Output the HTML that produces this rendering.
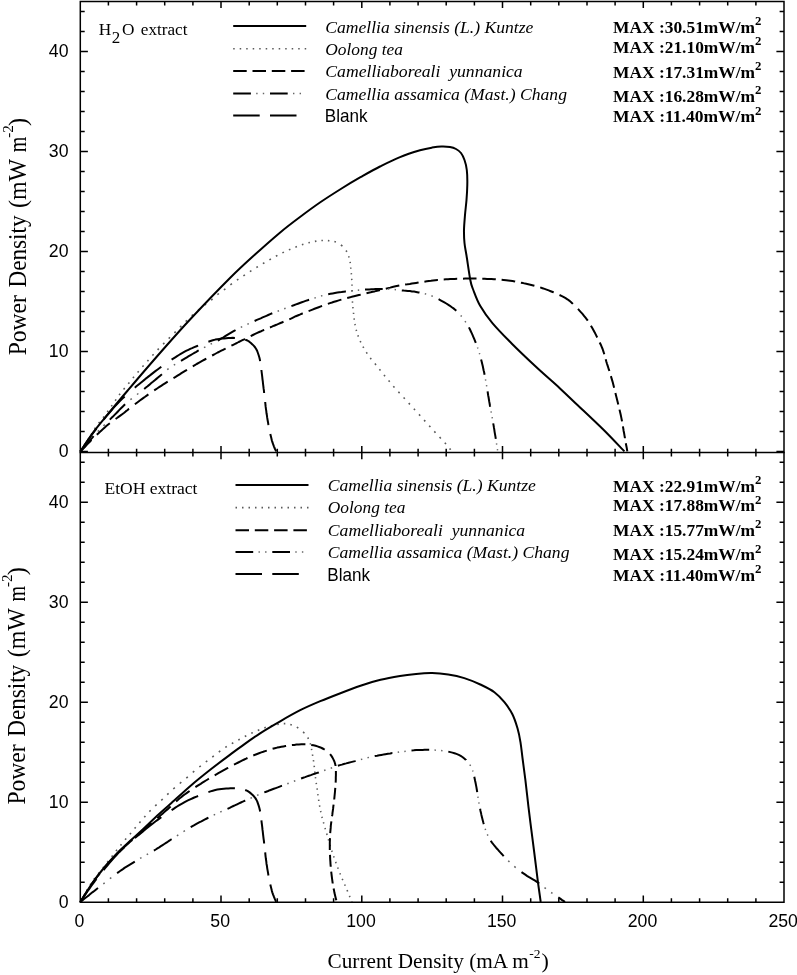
<!DOCTYPE html>
<html lang="en"><head><meta charset="utf-8"><title>Power density curves</title>
<style>html,body{margin:0;padding:0;background:#fff}svg{display:block}.ar{font-family:"Liberation Sans",Arial,sans-serif;font-size:17.7px;fill:#000}.tr{font-family:"Liberation Serif","Times New Roman",serif;fill:#000}</style></head><body>
<svg width="797" height="975" viewBox="0 0 797 975">
<rect width="797" height="975" fill="#fff"/>
<g fill="none" stroke="#000" stroke-width="2.00" stroke-linejoin="round">
<path d="M80.3 451.6L81.1 450.3M83.9 445.9L84.8 444.6M87.6 440.3L88.4 439.0M91.2 434.6L91.9 433.3M94.6 429.0L95.4 427.7M98.6 423.3L99.7 422.0M103.1 417.7L104.1 416.4M107.3 412.0L108.2 410.7M111.3 406.4L112.2 405.1M115.2 400.7L116.1 399.4M119.1 395.1L120.1 393.8M123.6 389.4L124.7 388.1M128.3 383.8L129.4 382.5M132.9 378.1L134.0 376.8M137.6 372.5L138.7 371.2M142.4 366.8L143.6 365.5M147.4 361.2L148.5 359.9M152.4 355.5L153.6 354.2M157.6 349.9L158.8 348.6M163.1 344.2L164.4 342.9M168.7 338.6L170.0 337.3M174.4 332.9L175.7 331.6M180.0 327.3L181.4 325.9M185.7 321.6L187.0 320.3M191.7 315.9L193.1 314.6M198.1 310.3L199.6 309.0M204.6 305.0L206.1 303.9M211.1 300.1L212.6 299.0M217.4 294.7L218.9 293.5M223.9 289.9L225.4 288.8M230.4 284.8L231.9 283.6M236.9 280.1L238.4 279.1M243.4 275.9L244.9 274.9M249.9 271.7L251.4 270.7M256.4 267.5L257.9 266.6M262.9 263.6L264.4 262.7M269.4 259.9L270.9 259.0M275.9 256.3L277.4 255.4M282.4 252.9L283.9 252.1M288.9 249.9L290.4 249.2M295.4 247.2L296.9 246.6M301.9 244.8L303.4 244.3M308.4 242.8L309.9 242.5M314.9 241.4L316.4 241.1M321.4 240.5L322.9 240.5M327.9 240.6L329.4 240.7M334.4 241.4L335.9 241.9M340.9 244.9L342.4 246.2M346.1 250.5L346.8 251.8M348.6 256.2L349.1 257.5M350.1 261.8L350.3 263.1M350.7 267.5L350.8 268.8M351.3 273.1L351.4 274.4M351.7 278.8L351.8 280.1M352.0 284.4L352.0 285.7M352.1 290.1L352.1 291.4M352.1 295.7L352.2 297.0M352.4 301.4L352.5 302.7M352.9 307.0L353.0 308.4M353.5 312.7L353.6 314.0M354.1 318.4L354.2 319.7M354.9 324.0L355.2 325.3M356.2 329.7L356.5 331.0M357.9 335.3L358.4 336.6M360.2 341.0L360.8 342.3M363.0 346.6L363.7 347.9M366.3 352.3L367.2 353.6M370.3 357.9L371.2 359.2M374.9 363.6L376.0 364.9M379.4 369.2L380.5 370.5M384.0 374.9L385.0 376.2M388.6 380.5L389.7 381.8M393.3 386.2L394.5 387.5M398.4 391.8L399.6 393.1M403.6 397.5L404.8 398.8M408.7 403.1L409.9 404.4M413.9 408.8L415.0 410.1M419.0 414.4L420.2 415.7M424.1 420.1L425.3 421.4M429.2 425.7L430.4 427.0M434.3 431.4L435.5 432.7M439.6 437.0L440.8 438.4M444.8 442.7L446.0 444.0M449.6 448.4L450.6 449.7" stroke="#5a5a5a" stroke-width="1.60"/>
<path d="M80.3 451.6L81.9 449.9L83.5 448.2L85.0 446.7L86.5 445.1L88.2 443.4L89.8 441.7L91.4 440.0L91.6 439.9M96.8 434.8L98.5 433.3L100.0 431.8L101.5 430.4L103.0 429.1L104.5 427.7L106.3 426.1L108.2 424.5L109.8 423.3M115.6 419.0L117.3 417.8L118.9 416.6L120.6 415.4L122.2 414.2L124.2 412.7L125.7 411.4L127.3 410.2L128.9 408.9L129.1 408.8M134.9 404.3L136.6 403.0L138.6 401.5L140.2 400.3L141.8 399.1L143.5 397.9L145.1 396.8L146.7 395.6L148.4 394.4L148.4 394.4M154.2 390.4L156.1 389.2L157.8 388.0L159.5 386.9L161.2 385.8L162.9 384.7L165.0 383.4L166.9 382.2L167.7 381.7M173.5 378.1L175.6 376.9L177.5 375.7L179.7 374.3L181.4 373.2L183.5 371.9L185.6 370.6L187.0 369.8M192.8 366.3L194.8 365.2L196.7 364.0L198.7 362.9L200.5 361.9L202.6 360.7L204.8 359.5L206.3 358.7M212.1 355.5L214.1 354.5L215.9 353.5L217.7 352.5L219.5 351.6L221.3 350.7L223.1 349.8L224.9 348.9L225.6 348.5M231.4 345.7L233.2 344.8L235.1 343.9L236.9 343.0L238.7 342.0L240.5 341.1L242.4 340.2L244.2 339.3L244.9 338.9M250.7 336.1L252.9 335.0L255.1 333.9L257.3 332.9L259.2 332.0L261.2 331.2L263.1 330.3L264.2 329.9M270.0 327.5L271.9 326.7L274.1 325.7L276.4 324.8L278.5 323.9L280.5 323.0L282.5 322.2L283.5 321.8M289.3 319.3L291.5 318.3L293.5 317.3L295.8 316.2L298.3 315.2L300.3 314.4L302.4 313.5L302.8 313.4M308.6 311.1L310.5 310.4L312.5 309.6L314.5 308.8L316.6 308.0L318.7 307.2L320.8 306.4L322.1 306.0M327.9 303.9L330.0 303.1L332.0 302.5L334.1 301.8L336.1 301.2L338.0 300.6L340.4 299.9L341.4 299.6M347.2 298.0L349.3 297.5L351.6 296.9L354.0 296.3L356.0 295.8L357.9 295.3L360.0 294.8L360.7 294.6M366.5 293.2L368.6 292.7L370.7 292.3L372.7 291.8L374.6 291.4L377.0 290.8L379.3 290.3L380.0 290.1M385.8 288.7L388.1 288.1L390.2 287.6L392.4 287.0L394.4 286.6L396.7 286.1L399.3 285.6L399.3 285.6M405.1 284.6L407.4 284.3L409.8 283.9L411.9 283.5L414.0 283.2L416.1 282.9L418.2 282.6L418.6 282.5M424.4 281.7L426.8 281.3L428.9 281.0L431.0 280.8L433.0 280.5L435.4 280.2L437.6 280.0L437.9 280.0M443.7 279.4L446.0 279.3L448.1 279.2L450.1 279.0L452.2 279.0L454.6 278.9L457.0 278.8L457.2 278.8M463.0 278.7L465.1 278.6L467.1 278.6L469.2 278.6L471.3 278.5L473.4 278.5L475.4 278.5L476.5 278.5M482.3 278.7L484.7 278.7L487.1 278.9L489.5 279.0L491.5 279.1L494.0 279.2L495.8 279.3M501.6 279.8L503.7 280.0L506.2 280.2L508.2 280.5L510.3 280.8L512.5 281.1L514.8 281.5L515.1 281.6M520.9 282.7L523.2 283.1L525.2 283.6L527.2 284.0L529.3 284.5L531.3 285.0L533.3 285.5L534.4 285.8M540.2 287.4L542.5 288.2L544.6 288.9L546.6 289.6L548.7 290.4L550.7 291.2L552.7 292.0L553.7 292.4M559.5 295.0L561.4 295.9L563.4 296.9L565.6 298.1L567.4 299.3L569.2 300.6L570.9 302.1L572.4 303.4L572.9 303.9M578.0 308.9L579.7 310.8L581.1 312.4L582.5 313.9L584.0 315.8L585.3 317.4L586.8 319.3L587.8 320.7M590.9 325.7L592.0 327.6L593.1 329.6L594.3 331.8L595.3 333.6L596.3 335.6L597.2 337.5M599.7 342.5L600.8 344.7L601.7 346.9L602.6 349.0L603.3 351.1L603.9 353.0L604.3 354.2M605.7 359.3L606.3 361.5L606.9 363.5L607.7 365.9L608.3 367.8L608.9 369.7L609.4 371.0M610.9 376.1L611.5 378.1L612.1 380.1L612.8 382.5L613.3 384.5L613.8 386.5L614.1 387.8M615.4 392.9L615.9 395.0L616.4 397.0L616.9 399.0L617.4 401.0L617.9 403.0L618.3 404.6M619.5 409.6L620.0 411.8L620.6 414.2L621.1 416.6L621.5 418.6L621.9 420.6L622.0 421.4M622.9 426.4L623.3 428.7L623.6 430.7L624.1 433.2L624.5 435.6L624.9 437.8L624.9 438.2M625.8 443.2L626.2 445.2L626.6 447.2L627.0 449.5L627.3 451.4" stroke="#000" stroke-width="2.00"/>
<path d="M80.3 451.6L81.8 449.9L83.1 448.3L84.7 446.5L86.1 444.9L87.5 443.2L89.0 441.4L90.6 439.6L92.2 437.9L93.6 436.2M109.8 419.6L111.3 418.1L113.0 416.5L114.6 414.9L116.2 413.3L117.7 411.7L119.4 409.9L121.0 408.3L122.6 406.7L124.3 405.0L125.1 404.2M144.2 388.9L145.9 387.5L147.6 386.2L149.2 384.9L151.0 383.3L152.9 381.8L154.8 380.2L156.4 378.9L158.3 377.3L159.9 375.9L161.6 374.5L161.9 374.2M181.0 360.9L183.0 359.7L185.1 358.4L186.9 357.3L188.7 356.2L190.6 355.1L192.5 354.0L194.4 352.9L196.3 351.8L198.1 350.7L198.7 350.4M217.8 340.5L219.7 339.5L221.6 338.4L223.5 337.3L225.2 336.2L227.3 334.9L229.4 333.6L231.5 332.3L233.2 331.3L235.0 330.3L235.5 330.0M254.6 321.0L256.9 319.9L258.8 319.1L260.7 318.3L262.6 317.4L264.5 316.6L266.4 315.8L268.2 315.0L270.1 314.2L272.3 313.3M291.4 306.1L293.7 305.3L296.0 304.4L297.9 303.7L299.8 303.0L301.8 302.3L303.7 301.6L305.6 300.9L307.6 300.3L309.1 299.8M328.2 294.2L330.4 293.8L332.6 293.4L334.9 293.0L337.4 292.6L339.4 292.3L341.5 292.1L343.6 291.8L345.7 291.5L345.9 291.5M365.0 289.6L367.1 289.5L369.2 289.4L371.4 289.3L373.5 289.2L375.5 289.1L377.6 289.1L380.0 289.0L382.3 289.0L382.7 289.0M401.8 290.4L403.8 290.6L405.8 290.7L407.9 290.9L409.9 291.1L412.0 291.4L414.1 291.6L416.1 291.9L418.5 292.4L419.5 292.6M438.6 299.2L440.6 300.3L442.5 301.3L444.4 302.4L446.3 303.5L448.1 304.7L449.9 305.8L451.5 307.0L453.5 308.4L455.1 309.7L456.3 310.8M468.9 327.4L469.9 329.3L470.8 331.2L471.7 333.1L472.5 334.9L473.3 336.8L474.1 338.7L474.9 340.6L475.8 342.8M481.1 359.4L481.7 361.8L482.3 364.2L482.8 366.2L483.2 368.2L483.6 370.2L484.1 372.2L484.5 374.3L484.6 374.8M487.6 391.4L487.9 393.5L488.2 395.5L488.6 397.5L488.9 399.5L489.3 401.9L489.7 404.0L490.0 406.0L490.2 406.8M493.2 423.4L493.6 425.4L493.9 427.4L494.3 429.6L494.6 431.8L495.0 434.1L495.4 436.4L495.8 438.8L495.8 438.8" stroke="#000" stroke-width="2.00"/><path d="M97.8 431.6L99.0 430.4M103.5 425.9L104.7 424.6M109.8 419.6M130.4 399.7L131.8 398.6M137.0 394.5L138.4 393.5M144.2 388.9M167.2 369.7L168.6 368.6M173.8 365.0L175.2 364.3M181.0 360.9M204.0 347.6L205.4 346.8M210.6 344.2L212.0 343.5M217.8 340.5M240.8 327.3L242.2 326.6M247.4 324.2L248.8 323.6M254.6 321.0M277.6 311.2L279.0 310.7M284.2 308.7L285.6 308.2M291.4 306.1M314.4 298.1L315.8 297.6M321.0 296.0L322.4 295.6M328.2 294.2M351.2 290.9L352.6 290.7M357.8 290.2L359.2 290.1M365.0 289.6M388.0 289.0L389.4 289.1M394.6 289.6L396.0 289.7M401.8 290.4M424.8 293.7L426.2 294.1M431.4 295.8L432.8 296.4M438.6 299.2M460.7 315.4L461.7 316.6M465.0 321.1L465.8 322.3M468.9 327.4M477.5 347.4L477.9 348.6M479.4 353.1L479.7 354.3M481.1 359.4M485.5 379.4L485.7 380.6M486.5 385.1L486.7 386.3M487.6 391.4M491.0 411.4L491.3 412.6M492.1 417.1L492.3 418.3M493.2 423.4M496.5 443.4L496.7 444.6M497.4 449.1L497.6 450.3" stroke="#666" stroke-width="1.50"/>
<path d="M80.3 451.6L81.6 449.7L82.8 447.9L83.9 446.2L85.1 444.4L86.4 442.5L87.7 440.6L89.1 438.7L90.4 436.8L91.6 435.0L92.8 433.4L94.1 431.7L95.3 430.0L96.5 428.6M103.6 419.6L105.1 417.8L106.4 416.2L107.7 414.6L109.1 413.0L110.4 411.5L111.7 410.0L113.0 408.4L114.6 406.6L116.3 404.8L118.0 403.0L119.4 401.5L120.9 400.1L122.4 398.6L123.9 397.2L124.7 396.6M134.8 387.7L136.4 386.3L138.0 385.0L139.6 383.7L141.1 382.5L142.7 381.2L144.3 379.9L145.8 378.6L147.4 377.4L149.0 376.1L150.6 374.9L152.2 373.6L154.1 372.1L155.7 370.9L157.3 369.7L159.3 368.2L161.3 366.7L161.3 366.7M171.6 359.7L173.6 358.4L175.3 357.3L177.1 356.1L178.9 355.0L180.7 353.9L182.5 352.9L184.6 351.7L186.5 350.7L188.4 349.8L190.2 348.9L192.1 348.1L194.3 347.1L196.6 346.2L198.1 345.6M208.4 341.7L210.5 341.0L212.8 340.3L215.3 339.6L217.4 339.2L219.4 338.9L221.4 338.6L223.9 338.4L226.2 338.2L228.3 338.0L230.4 337.9L232.8 337.8L234.9 337.9M245.2 339.6L247.4 340.5L249.3 341.7L250.9 343.0L252.4 344.4L253.9 345.9L255.2 347.5L256.3 349.2L257.2 351.0L257.9 353.0L258.6 355.0L259.3 357.3L259.9 359.8L260.1 361.1M261.4 370.0L261.7 372.5L262.0 374.8L262.3 377.3L262.5 379.3L262.8 381.4L263.0 383.5L263.3 385.9L263.6 388.4L263.9 390.4L264.1 392.5L264.1 393.1M265.2 402.0L265.4 404.2L265.6 406.2L265.9 408.6L266.3 411.1L266.5 413.3L266.9 415.3L267.2 417.7L267.6 420.0L268.0 422.2L268.3 424.2L268.5 425.1M270.3 434.0L270.8 436.1L271.3 438.1L271.8 440.2L272.4 442.2L273.1 444.2L273.9 446.3L274.8 448.5L275.7 450.4L276.1 451.4" stroke="#000" stroke-width="2.00"/>
<path d="M80.3 451.6C82.3 448.6 88.4 439.1 92.5 433.4C96.6 427.7 99.1 424.8 105.0 417.6C110.9 410.5 118.5 401.3 127.7 390.5C136.9 379.7 149.5 364.9 160.0 353.0C170.5 341.1 178.8 331.5 190.5 319.0C202.2 306.5 219.2 288.8 230.0 278.0C240.8 267.2 246.6 262.1 255.0 254.5C263.4 246.9 272.7 238.7 280.2 232.4C287.7 226.2 293.3 222.0 300.0 217.0C306.7 212.0 313.6 206.9 320.3 202.3C327.0 197.7 333.3 193.7 340.0 189.5C346.7 185.3 353.8 181.0 360.5 177.2C367.2 173.4 373.4 169.8 380.0 166.5C386.6 163.2 393.3 159.8 400.0 157.1C406.7 154.4 414.7 151.9 420.0 150.3C425.3 148.7 428.4 148.2 432.0 147.6C435.6 147.0 438.4 146.6 441.4 146.5C444.4 146.4 447.6 146.6 450.0 147.0C452.4 147.4 454.2 148.0 456.0 149.0C457.8 150.0 459.6 151.2 461.0 153.0C462.4 154.8 463.5 157.2 464.5 160.0C465.5 162.8 466.3 165.8 466.8 170.0C467.3 174.2 467.4 180.0 467.3 185.0C467.2 190.0 466.9 195.0 466.5 200.0C466.1 205.0 465.4 210.0 465.0 215.0C464.6 220.0 464.1 225.3 464.0 230.0C463.9 234.7 464.1 238.8 464.5 243.0C464.9 247.2 465.5 249.3 466.5 255.5C467.5 261.7 469.2 274.2 470.3 280.0C471.4 285.8 471.6 285.6 473.3 290.0C475.0 294.4 477.1 300.6 480.3 306.1C483.5 311.6 487.0 316.8 492.4 323.1C497.8 329.5 505.0 336.8 512.4 344.2C519.8 351.6 528.6 359.9 536.5 367.3C544.4 374.7 553.1 382.0 560.0 388.4C566.9 394.8 570.8 398.7 578.0 405.5C585.2 412.3 595.3 421.7 603.0 429.3C610.7 436.9 620.8 447.7 624.4 451.4"/>
<path d="M80.3 902.0L81.0 900.7M83.5 896.3L84.2 895.0M86.7 890.7L87.5 889.4M90.1 885.0L90.9 883.7M93.8 879.4L94.8 878.1M98.2 873.7L99.3 872.4M102.8 868.1L103.9 866.8M107.2 862.4L108.3 861.1M111.6 856.8L112.7 855.5M116.0 851.1L117.0 849.8M120.5 845.5L121.5 844.2M125.1 839.8L126.2 838.5M129.9 834.2L131.0 832.9M134.6 828.5L135.7 827.2M139.4 822.9L140.5 821.6M144.3 817.2L145.4 815.9M149.4 811.6L150.6 810.3M155.2 805.9L156.6 804.6M161.3 800.3L162.7 799.0M167.2 794.6L168.6 793.3M173.3 789.0L174.8 787.7M179.8 783.5L181.3 782.2M186.3 778.1L187.8 776.8M192.8 772.4L194.3 771.2M199.3 767.0L200.8 765.8M205.8 761.9L207.3 760.8M212.3 757.1L213.8 755.9M218.8 752.0L220.3 750.9M225.3 747.4L226.8 746.5M231.8 743.6L233.3 742.7M238.3 740.0L239.8 739.2M244.8 736.5L246.3 735.7M251.3 733.3L252.8 732.6M257.8 730.4L259.3 729.8M264.3 727.9L265.8 727.3M270.8 725.9L272.3 725.5M277.3 724.5L278.8 724.2M283.8 723.6L285.3 723.6M290.3 724.4L291.8 724.9M296.8 727.1L298.3 728.0M303.1 731.9L304.4 733.2M307.7 737.5L308.5 738.8M310.2 743.2L310.6 744.5M311.5 748.8L311.7 750.1M312.5 754.5L312.7 755.8M313.4 760.1L313.6 761.5M314.2 765.8L314.3 767.1M314.8 771.5L314.9 772.8M315.4 777.1L315.6 778.4M316.2 782.8L316.4 784.1M317.1 788.4L317.2 789.7M317.8 794.1L318.0 795.4M318.6 799.7L318.8 801.0M319.5 805.4L319.8 806.7M320.6 811.0L320.9 812.3M321.9 816.7L322.2 818.0M323.4 822.3L323.8 823.6M325.0 828.0L325.4 829.3M326.7 833.6L327.1 834.9M328.3 839.3L328.7 840.6M330.0 844.9L330.4 846.2M331.7 850.6L332.2 851.9M333.6 856.2L334.1 857.5M335.6 861.9L336.1 863.2M337.7 867.5L338.2 868.8M339.9 873.2L340.4 874.5M342.2 878.8L342.8 880.1M344.7 884.5L345.2 885.8M347.1 890.1L347.6 891.5M349.4 895.8L350.0 897.1M351.8 901.5L352.0 902.0" stroke="#5a5a5a" stroke-width="1.60"/>
<path d="M80.3 902.0L81.5 900.1L82.7 898.2L84.0 896.1L85.2 894.2L86.4 892.3L87.6 890.3L87.7 890.3M91.0 885.2L92.2 883.4L93.4 881.7L94.7 880.0L95.9 878.3L97.2 876.7L98.5 875.1L99.7 873.5L99.7 873.5M103.9 868.4L105.4 866.6L106.8 865.0L108.1 863.4L109.5 861.9L110.8 860.4L112.2 858.9L113.9 857.1L114.2 856.7M119.2 851.7L120.6 850.3L122.2 848.9L123.7 847.5L125.2 846.1L126.8 844.8L128.3 843.5L129.8 842.1L131.3 840.8L132.4 839.9M138.2 834.9L140.0 833.3L141.6 832.0L143.1 830.7L144.6 829.3L146.1 828.0L147.7 826.7L149.2 825.3L150.7 824.0L151.6 823.2M157.4 818.2L159.0 816.7L160.9 815.1L162.8 813.4L164.3 812.1L165.8 810.7L167.4 809.4L169.2 807.7L170.6 806.4M176.1 801.4L177.8 800.0L179.4 798.6L181.1 797.2L182.7 795.9L184.6 794.5L186.6 793.1L188.3 791.9L189.6 791.0M195.4 787.2L197.3 785.9L199.0 784.8L200.7 783.8L202.4 782.7L204.1 781.6L205.9 780.5L207.6 779.5L208.9 778.7M214.7 775.3L216.7 774.2L218.4 773.2L220.2 772.2L222.0 771.2L223.8 770.2L225.6 769.2L227.4 768.2L228.2 767.8M234.0 764.6L236.0 763.6L238.3 762.5L240.5 761.4L242.4 760.4L244.3 759.5L246.1 758.7L247.5 758.0M253.3 755.5L255.2 754.7L257.1 754.0L259.0 753.3L261.3 752.4L263.2 751.8L265.1 751.1L266.8 750.6M272.6 748.8L274.8 748.2L277.2 747.6L279.2 747.2L281.3 746.8L283.4 746.4L285.5 746.0L286.1 745.9M291.9 745.1L294.2 744.9L296.5 744.6L298.9 744.4L301.3 744.3L303.4 744.3L305.4 744.3M311.2 744.9L313.5 745.3L315.6 745.8L317.5 746.4L319.8 747.2L321.7 748.0L323.6 749.0L324.7 749.7M330.1 754.2L331.4 755.9L332.5 757.6L333.4 759.4L334.4 761.5L335.1 763.7L335.6 765.9L335.6 766.0M335.9 771.0L335.9 773.3L335.9 775.3L335.8 777.4L335.8 779.6L335.7 781.8L335.6 782.7M335.3 787.8L335.1 790.0L334.9 792.5L334.7 794.5L334.5 796.5L334.3 798.6L334.2 799.5M333.6 804.6L333.3 806.7L333.1 808.7L332.8 810.8L332.5 812.8L332.3 814.9L332.0 816.3M331.4 821.4L331.1 823.4L330.8 825.8L330.7 827.9L330.5 829.9L330.3 832.0L330.2 833.1M330.0 838.1L329.9 840.3L329.8 842.8L329.8 845.3L329.8 847.3L329.8 849.4L329.8 849.9M330.0 854.9L330.1 857.0L330.2 859.5L330.4 861.9L330.5 864.0L330.7 866.1L330.7 866.7M331.2 871.7L331.5 874.2L331.8 876.6L332.1 879.0L332.4 881.2L332.7 883.3L332.7 883.4M333.6 888.5L334.1 890.8L334.5 893.1L335.1 895.6L335.7 897.9L336.2 899.9L336.3 900.2" stroke="#000" stroke-width="2.00"/>
<path d="M80.3 902.0L82.1 900.6L83.7 899.3L85.6 897.8L87.3 896.5L89.1 895.1L90.9 893.6L92.7 892.1L94.6 890.7L96.4 889.2L98.0 888.0M117.1 873.1L119.1 871.7L121.1 870.3L122.9 869.1L124.5 867.9L126.6 866.6L128.7 865.3L130.7 864.1L132.8 862.8L134.8 861.6M153.9 850.6L155.7 849.5L157.4 848.4L159.2 847.3L160.9 846.2L162.6 845.1L164.3 844.0L166.0 842.9L167.7 841.8L169.4 840.6L171.1 839.5L171.6 839.2M190.7 827.2L192.5 826.2L194.3 825.2L196.0 824.2L197.8 823.2L199.6 822.2L201.4 821.3L203.2 820.3L205.0 819.4L206.8 818.5L208.4 817.7M227.5 808.8L229.7 807.8L231.5 806.9L233.4 806.0L235.3 805.2L237.1 804.3L239.0 803.4L240.9 802.5L242.7 801.7L244.6 800.8L245.2 800.5M264.3 792.4L266.2 791.7L268.1 791.0L270.0 790.2L271.9 789.5L273.8 788.8L275.8 788.1L277.7 787.4L279.7 786.6L281.6 785.9L282.0 785.8M301.1 778.5L303.2 777.7L305.1 777.1L307.0 776.4L308.9 775.7L310.8 775.1L312.7 774.4L314.6 773.8L316.5 773.1L318.4 772.5L318.8 772.3M337.9 765.8L339.9 765.1L341.9 764.6L343.8 764.0L346.2 763.4L348.6 762.7L351.0 762.1L353.0 761.6L355.0 761.1L355.6 760.9M374.7 756.1L377.1 755.7L379.2 755.3L381.3 754.9L383.4 754.6L385.4 754.2L387.9 753.8L390.2 753.5L392.3 753.1L392.4 753.1M411.5 750.4L413.7 750.3L416.2 750.1L418.3 750.0L420.4 749.9L422.6 749.9L424.6 749.8L426.6 749.8L428.8 749.8L429.2 749.8M448.3 751.6L450.3 752.1L452.4 752.6L454.5 753.2L456.4 753.9L458.8 754.9L460.7 755.9L462.4 757.0L464.3 758.6L465.9 760.0L465.9 760.1M474.3 776.7L474.7 778.7L475.1 780.8L475.6 783.0L476.0 785.1L476.4 787.1L476.8 789.5L477.1 791.5L477.2 792.1M480.1 808.7L480.5 810.9L481.0 812.9L481.4 814.9L481.9 816.9L482.4 818.9L482.9 820.9L483.4 822.8L483.8 824.1M490.7 840.7L492.0 842.6L493.5 844.5L494.8 846.1L496.1 847.7L497.5 849.2L498.9 850.8L500.3 852.4L502.0 854.2L503.4 855.8L503.7 856.1M521.5 872.1L523.4 873.4L525.3 874.7L527.3 876.1L529.1 877.2L531.2 878.4L533.3 879.6L535.1 880.7L536.9 881.9L538.8 883.2L539.2 883.5M558.3 897.4L560.2 898.7L562.2 900.1L564.2 901.4L565.0 902.0" stroke="#000" stroke-width="2.00"/><path d="M103.3 883.9L104.7 882.8M109.9 878.7L111.3 877.6M117.1 873.1M140.1 858.4L141.5 857.6M146.7 854.7L148.1 853.9M153.9 850.6M176.9 835.8L178.3 834.9M183.5 831.6L184.9 830.7M190.7 827.2M213.7 815.1L215.1 814.4M220.3 812.0L221.7 811.4M227.5 808.8M250.5 798.2L251.9 797.6M257.1 795.4L258.5 794.8M264.3 792.4M287.3 783.8L288.7 783.2M293.9 781.2L295.3 780.7M301.1 778.5M324.1 770.5L325.5 770.0M330.7 768.2L332.1 767.7M337.9 765.8M360.9 759.5L362.3 759.1M367.5 757.8L368.9 757.4M374.7 756.1M397.7 752.3L399.1 752.1M404.3 751.4L405.7 751.2M411.5 750.4M434.5 750.1L435.9 750.2M441.1 750.6L442.5 750.8M448.3 751.6M469.8 764.7L470.6 765.9M472.6 770.4L473.0 771.6M474.3 776.7M477.9 796.7L478.1 797.9M478.8 802.4L479.1 803.6M480.1 808.7M485.2 828.7L485.6 829.9M487.3 834.4L487.9 835.6M490.7 840.7M508.2 860.7L509.5 861.9M514.3 866.4L515.7 867.6M521.5 872.1M544.5 887.6L545.9 888.7M551.1 892.5L552.5 893.4M558.3 897.4" stroke="#666" stroke-width="1.50"/>
<path d="M80.3 902.0L81.6 900.1L82.8 898.3L83.9 896.6L85.1 894.8L86.4 892.9L87.7 891.0L89.1 889.1L90.4 887.2L91.6 885.4L92.8 883.8L94.1 882.1L95.3 880.4L96.5 879.0M103.6 870.0L105.1 868.2L106.4 866.6L107.7 865.0L109.1 863.4L110.4 861.9L111.7 860.4L113.0 858.8L114.6 857.0L116.3 855.2L118.0 853.4L119.4 851.9L120.9 850.5L122.4 849.0L123.9 847.6L124.7 847.0M134.8 838.1L136.4 836.7L138.0 835.4L139.6 834.1L141.1 832.9L142.7 831.6L144.3 830.3L145.8 829.0L147.4 827.8L149.0 826.5L150.6 825.3L152.2 824.0L154.1 822.5L155.7 821.3L157.3 820.1L159.3 818.6L161.3 817.1L161.3 817.1M171.6 810.1L173.6 808.8L175.3 807.7L177.1 806.5L178.9 805.4L180.7 804.3L182.5 803.3L184.6 802.1L186.5 801.1L188.4 800.2L190.2 799.3L192.1 798.5L194.3 797.5L196.6 796.6L198.1 796.0M208.4 792.1L210.5 791.4L212.8 790.7L215.3 790.0L217.4 789.6L219.4 789.3L221.4 789.0L223.9 788.8L226.2 788.6L228.3 788.4L230.4 788.3L232.8 788.2L234.9 788.3M245.2 790.0L247.4 790.9L249.3 792.1L250.9 793.4L252.4 794.8L253.9 796.3L255.2 797.9L256.3 799.6L257.2 801.4L257.9 803.4L258.6 805.4L259.3 807.7L259.9 810.2L260.1 811.5M261.4 820.4L261.7 822.9L262.0 825.2L262.3 827.7L262.5 829.7L262.8 831.8L263.0 833.9L263.3 836.3L263.6 838.8L263.9 840.8L264.1 842.9L264.1 843.5M265.2 852.4L265.4 854.6L265.6 856.6L265.9 859.0L266.3 861.5L266.5 863.7L266.9 865.7L267.2 868.1L267.6 870.4L268.0 872.6L268.3 874.6L268.5 875.5M270.3 884.4L270.8 886.5L271.3 888.5L271.8 890.6L272.4 892.6L273.1 894.6L273.9 896.7L274.8 898.9L275.7 900.8L276.1 901.8" stroke="#000" stroke-width="2.00"/>
<path d="M80.3 902.0C82.3 898.8 88.4 888.7 92.5 882.8C96.6 876.9 100.9 871.5 105.1 866.5C109.3 861.5 113.4 857.0 117.6 852.7C121.8 848.4 126.0 844.7 130.2 840.8C134.4 836.9 138.5 833.4 142.7 829.5C146.9 825.6 150.8 821.7 155.3 817.5C159.9 813.3 164.2 809.5 170.0 804.3C175.8 799.1 183.4 792.0 190.1 786.2C196.8 780.5 203.5 775.1 210.2 769.8C216.9 764.5 225.2 758.3 230.2 754.6C235.2 750.9 235.0 751.0 240.0 747.4C245.0 743.8 253.4 737.6 260.1 733.3C266.8 728.9 273.5 725.1 280.2 721.3C286.9 717.4 293.5 713.6 300.2 710.2C306.9 706.9 313.6 704.0 320.3 701.2C327.0 698.4 333.7 695.8 340.4 693.2C347.1 690.6 353.8 688.0 360.5 685.7C367.2 683.5 374.0 681.3 380.6 679.7C387.2 678.1 394.1 676.9 400.0 675.9C405.9 674.9 410.8 674.4 416.1 673.9C421.5 673.4 426.8 673.0 432.1 673.1C437.5 673.2 442.8 673.7 448.2 674.5C453.6 675.3 458.9 676.4 464.3 678.1C469.7 679.8 475.3 682.1 480.3 684.5C485.3 686.9 490.4 689.2 494.4 692.2C498.4 695.2 501.4 698.5 504.4 702.2C507.4 705.9 510.2 709.9 512.4 714.3C514.6 718.6 516.1 723.6 517.5 728.3C518.9 733.0 519.7 737.4 520.5 742.4C521.3 747.4 521.7 751.7 522.5 758.0C523.3 764.3 524.4 772.2 525.4 780.2C526.4 788.2 527.4 797.9 528.4 806.3C529.4 814.7 530.4 822.4 531.4 830.4C532.4 838.4 533.5 846.5 534.5 854.5C535.5 862.5 536.5 870.7 537.5 878.6C538.5 886.5 540.2 898.1 540.7 902.0"/>
</g>
<path d="M80.3 1.4H784.0V902.2H80.3ZM80.3 1.4v6.6M80.3 446.0V459.2M80.3 902.2v-6.6M108.4 1.4v4.0M108.4 448.8V456.5M108.4 902.2v-4.0M136.6 1.4v4.0M136.6 448.8V456.5M136.6 902.2v-4.0M164.7 1.4v4.0M164.7 448.8V456.5M164.7 902.2v-4.0M192.9 1.4v4.0M192.9 448.8V456.5M192.9 902.2v-4.0M221.0 1.4v6.6M221.0 446.0V459.2M221.0 902.2v-6.6M249.2 1.4v4.0M249.2 448.8V456.5M249.2 902.2v-4.0M277.3 1.4v4.0M277.3 448.8V456.5M277.3 902.2v-4.0M305.5 1.4v4.0M305.5 448.8V456.5M305.5 902.2v-4.0M333.6 1.4v4.0M333.6 448.8V456.5M333.6 902.2v-4.0M361.8 1.4v6.6M361.8 446.0V459.2M361.8 902.2v-6.6M389.9 1.4v4.0M389.9 448.8V456.5M389.9 902.2v-4.0M418.1 1.4v4.0M418.1 448.8V456.5M418.1 902.2v-4.0M446.2 1.4v4.0M446.2 448.8V456.5M446.2 902.2v-4.0M474.4 1.4v4.0M474.4 448.8V456.5M474.4 902.2v-4.0M502.5 1.4v6.6M502.5 446.0V459.2M502.5 902.2v-6.6M530.7 1.4v4.0M530.7 448.8V456.5M530.7 902.2v-4.0M558.8 1.4v4.0M558.8 448.8V456.5M558.8 902.2v-4.0M587.0 1.4v4.0M587.0 448.8V456.5M587.0 902.2v-4.0M615.1 1.4v4.0M615.1 448.8V456.5M615.1 902.2v-4.0M643.3 1.4v6.6M643.3 446.0V459.2M643.3 902.2v-6.6M671.4 1.4v4.0M671.4 448.8V456.5M671.4 902.2v-4.0M699.6 1.4v4.0M699.6 448.8V456.5M699.6 902.2v-4.0M727.7 1.4v4.0M727.7 448.8V456.5M727.7 902.2v-4.0M755.9 1.4v4.0M755.9 448.8V456.5M755.9 902.2v-4.0M784.0 1.4v6.6M784.0 446.0V459.2M784.0 902.2v-6.6M80.3 451.4h7.6M784.0 451.4h-7.6M80.3 431.4h4.4M784.0 431.4h-4.4M80.3 411.4h4.4M784.0 411.4h-4.4M80.3 391.4h4.4M784.0 391.4h-4.4M80.3 371.4h4.4M784.0 371.4h-4.4M80.3 351.4h7.6M784.0 351.4h-7.6M80.3 331.4h4.4M784.0 331.4h-4.4M80.3 311.4h4.4M784.0 311.4h-4.4M80.3 291.4h4.4M784.0 291.4h-4.4M80.3 271.4h4.4M784.0 271.4h-4.4M80.3 251.4h7.6M784.0 251.4h-7.6M80.3 231.4h4.4M784.0 231.4h-4.4M80.3 211.4h4.4M784.0 211.4h-4.4M80.3 191.4h4.4M784.0 191.4h-4.4M80.3 171.4h4.4M784.0 171.4h-4.4M80.3 151.4h7.6M784.0 151.4h-7.6M80.3 131.4h4.4M784.0 131.4h-4.4M80.3 111.4h4.4M784.0 111.4h-4.4M80.3 91.4h4.4M784.0 91.4h-4.4M80.3 71.4h4.4M784.0 71.4h-4.4M80.3 51.4h7.6M784.0 51.4h-7.6M80.3 31.4h4.4M784.0 31.4h-4.4M80.3 11.4h4.4M784.0 11.4h-4.4M80.3 902.2h7.6M784.0 902.2h-7.6M80.3 882.2h4.4M784.0 882.2h-4.4M80.3 862.2h4.4M784.0 862.2h-4.4M80.3 842.2h4.4M784.0 842.2h-4.4M80.3 822.2h4.4M784.0 822.2h-4.4M80.3 802.2h7.6M784.0 802.2h-7.6M80.3 782.2h4.4M784.0 782.2h-4.4M80.3 762.2h4.4M784.0 762.2h-4.4M80.3 742.2h4.4M784.0 742.2h-4.4M80.3 722.2h4.4M784.0 722.2h-4.4M80.3 702.2h7.6M784.0 702.2h-7.6M80.3 682.2h4.4M784.0 682.2h-4.4M80.3 662.2h4.4M784.0 662.2h-4.4M80.3 642.2h4.4M784.0 642.2h-4.4M80.3 622.2h4.4M784.0 622.2h-4.4M80.3 602.2h7.6M784.0 602.2h-7.6M80.3 582.2h4.4M784.0 582.2h-4.4M80.3 562.2h4.4M784.0 562.2h-4.4M80.3 542.2h4.4M784.0 542.2h-4.4M80.3 522.2h4.4M784.0 522.2h-4.4M80.3 502.2h7.6M784.0 502.2h-7.6M80.3 482.2h4.4M784.0 482.2h-4.4M80.3 462.2h4.4M784.0 462.2h-4.4" fill="none" stroke="#000" stroke-width="1.50"/>
<path d="M79.6 452.4H784.7" fill="none" stroke="#000" stroke-width="1.50"/>
<g class="ar" text-anchor="middle" font-size="17.2">
<text x="79.5" y="926.9">0</text>
<text x="220.2" y="926.9">50</text>
<text x="361.0" y="926.9">100</text>
<text x="501.7" y="926.9">150</text>
<text x="642.5" y="926.9">200</text>
<text x="783.2" y="926.9">250</text>
</g>
<g class="ar" text-anchor="end">
<text x="68.5" y="457.2">0</text>
<text x="68.5" y="357.2">10</text>
<text x="68.5" y="257.2">20</text>
<text x="68.5" y="157.2">30</text>
<text x="68.5" y="57.2">40</text>
<text x="68.5" y="908.0">0</text>
<text x="68.5" y="808.0">10</text>
<text x="68.5" y="708.0">20</text>
<text x="68.5" y="608.0">30</text>
<text x="68.5" y="508.0">40</text>
</g>
<g class="tr" font-size="22"><text x="327.5" y="968" textLength="201.3" lengthAdjust="spacingAndGlyphs">Current Density (mA m</text><text x="529.3" y="958.2" font-size="13.5">-2</text><text x="541.6" y="968">)</text></g>
<g class="tr" font-size="24.4" transform="translate(26.0 355.3) rotate(-90)"><text x="0" y="0" textLength="60.2" lengthAdjust="spacingAndGlyphs">Power</text><text x="67.8" y="0" textLength="72" lengthAdjust="spacingAndGlyphs">Density</text><text x="147.3" y="0" textLength="49.2" lengthAdjust="spacingAndGlyphs">(mW</text><text x="203" y="0" textLength="15.6" lengthAdjust="spacingAndGlyphs">m</text><text x="217.6" y="-13" font-size="15">-2</text><text x="229.4" y="0">)</text></g>
<g class="tr" font-size="24.4" transform="translate(25.2 804.6) rotate(-90)"><text x="0" y="0" textLength="60.2" lengthAdjust="spacingAndGlyphs">Power</text><text x="67.8" y="0" textLength="72" lengthAdjust="spacingAndGlyphs">Density</text><text x="147.3" y="0" textLength="49.2" lengthAdjust="spacingAndGlyphs">(mW</text><text x="203" y="0" textLength="15.6" lengthAdjust="spacingAndGlyphs">m</text><text x="217.6" y="-13" font-size="15">-2</text><text x="229.4" y="0">)</text></g>
<g fill="none" stroke="#000" stroke-width="2" stroke-linecap="butt">
<path d="M233.2 25.9C239.3 25.9 257.5 25.9 269.7 25.9C281.9 25.9 300.1 25.9 306.2 25.9"/>
<path d="M233.2 48.7L234.7 48.7M239.7 48.7L241.2 48.7M246.2 48.7L247.7 48.7M252.7 48.7L254.2 48.7M259.2 48.7L260.7 48.7M265.7 48.7L267.2 48.7M272.2 48.7L273.7 48.7M278.7 48.7L280.2 48.7M285.2 48.7L286.7 48.7M291.7 48.7L293.2 48.7M298.2 48.7L299.7 48.7M304.7 48.7L306.2 48.7" stroke="#5a5a5a" stroke-width="1.60"/>
<path d="M233.2 70.9L235.3 70.9L237.5 70.9L239.6 70.9L242.0 70.9L244.0 70.9L246.1 70.9L246.7 70.9M252.5 70.9L254.6 70.9L257.0 70.9L259.3 70.9L261.6 70.9L263.8 70.9L266.0 70.9M271.8 70.9L273.9 70.9L276.1 70.9L278.4 70.9L280.7 70.9L283.0 70.9L285.3 70.9M291.1 70.9L293.3 70.9L295.4 70.9L297.4 70.9L299.8 70.9L301.9 70.9L304.1 70.9L304.6 70.9" stroke="#000" stroke-width="2.00"/>
<path d="M233.2 93.5L235.3 93.5L237.5 93.5L239.6 93.5L242.0 93.5L244.0 93.5L246.1 93.5L248.3 93.5L250.6 93.5L250.9 93.5M270.0 93.5L272.3 93.5L274.4 93.5L276.7 93.5L279.0 93.5L281.3 93.5L283.6 93.5L285.9 93.5L287.7 93.5" stroke="#000" stroke-width="2.00"/><path d="M256.2 93.5L257.6 93.5M262.8 93.5L264.2 93.5M270.0 93.5M293.0 93.5L294.4 93.5M299.6 93.5L301.0 93.5" stroke="#666" stroke-width="1.50"/>
<path d="M233.2 115.5L235.3 115.5L237.7 115.5L239.9 115.5L242.4 115.5L244.5 115.5L246.8 115.5L249.0 115.5L251.4 115.5L253.7 115.5L256.1 115.5L258.4 115.5L259.7 115.5M270.0 115.5L272.5 115.5L274.8 115.5L277.2 115.5L279.5 115.5L281.8 115.5L284.1 115.5L286.2 115.5L288.3 115.5L290.7 115.5L292.9 115.5L295.1 115.5L296.5 115.5" stroke="#000" stroke-width="2.00"/>
</g>
<g class="tr" font-size="17" font-style="italic">
<text x="325.3" y="32.5" textLength="208.0" lengthAdjust="spacingAndGlyphs">Camellia sinensis (L.) Kuntze</text>
<text x="325.3" y="55.0" textLength="77.6" lengthAdjust="spacingAndGlyphs">Oolong tea</text>
<text x="325.3" y="77.3" textLength="197.4" lengthAdjust="spacingAndGlyphs">Camelliaboreali  yunnanica</text>
<text x="325.3" y="99.9" textLength="241.7" lengthAdjust="spacingAndGlyphs">Camellia assamica (Mast.) Chang</text>
</g>
<text class="ar" font-size="17.2" x="324.8" y="121.9" textLength="42.8" lengthAdjust="spacingAndGlyphs">Blank</text>
<text class="tr" font-size="17.3" x="98.8" y="35.2">H<tspan x="111.7" font-size="17" dy="7.3">2</tspan><tspan x="121.9" dy="-7.3">O</tspan><tspan x="140.8" textLength="46.6" lengthAdjust="spacingAndGlyphs">extract</tspan></text>
<g class="tr" font-size="17" font-weight="bold">
<text x="613" y="33.1" textLength="148.5" lengthAdjust="spacingAndGlyphs">MAX :30.51mW/m<tspan font-size="12.5" dy="-7.6">2</tspan></text>
<text x="613" y="52.6" textLength="148.5" lengthAdjust="spacingAndGlyphs">MAX :21.10mW/m<tspan font-size="12.5" dy="-7.6">2</tspan></text>
<text x="613" y="77.5" textLength="148.5" lengthAdjust="spacingAndGlyphs">MAX :17.31mW/m<tspan font-size="12.5" dy="-7.6">2</tspan></text>
<text x="613" y="101.6" textLength="148.5" lengthAdjust="spacingAndGlyphs">MAX :16.28mW/m<tspan font-size="12.5" dy="-7.6">2</tspan></text>
<text x="613" y="122.2" textLength="148.5" lengthAdjust="spacingAndGlyphs">MAX :11.40mW/m<tspan font-size="12.5" dy="-7.6">2</tspan></text>
</g>
<g fill="none" stroke="#000" stroke-width="2" stroke-linecap="butt">
<path d="M235.5 485.1C241.6 485.1 259.8 485.1 272.0 485.1C284.2 485.1 302.4 485.1 308.5 485.1"/>
<path d="M235.5 507.6L237.0 507.6M242.0 507.6L243.5 507.6M248.5 507.6L250.0 507.6M255.0 507.6L256.5 507.6M261.5 507.6L263.0 507.6M268.0 507.6L269.5 507.6M274.5 507.6L276.0 507.6M281.0 507.6L282.5 507.6M287.5 507.6L289.0 507.6M294.0 507.6L295.5 507.6M300.5 507.6L302.0 507.6M307.0 507.6L308.5 507.6" stroke="#5a5a5a" stroke-width="1.60"/>
<path d="M235.5 530.2L237.6 530.2L239.8 530.2L241.9 530.2L244.3 530.2L246.3 530.2L248.4 530.2L249.0 530.2M254.8 530.2L256.9 530.2L259.3 530.2L261.6 530.2L263.9 530.2L266.1 530.2L268.3 530.2M274.1 530.2L276.2 530.2L278.4 530.2L280.7 530.2L283.0 530.2L285.3 530.2L287.6 530.2M293.4 530.2L295.6 530.2L297.7 530.2L299.7 530.2L302.1 530.2L304.2 530.2L306.4 530.2L306.9 530.2" stroke="#000" stroke-width="2.00"/>
<path d="M235.5 552.1L237.6 552.1L239.8 552.1L241.9 552.1L244.3 552.1L246.3 552.1L248.4 552.1L250.6 552.1L252.9 552.1L253.2 552.1M272.3 552.1L274.6 552.1L276.7 552.1L279.0 552.1L281.3 552.1L283.6 552.1L285.9 552.1L288.2 552.1L290.0 552.1" stroke="#000" stroke-width="2.00"/><path d="M258.5 552.1L259.9 552.1M265.1 552.1L266.5 552.1M272.3 552.1M295.3 552.1L296.7 552.1M301.9 552.1L303.3 552.1" stroke="#666" stroke-width="1.50"/>
<path d="M235.5 574.1L237.6 574.1L240.0 574.1L242.2 574.1L244.7 574.1L246.8 574.1L249.1 574.1L251.3 574.1L253.7 574.1L256.0 574.1L258.4 574.1L260.7 574.1L262.0 574.1M272.3 574.1L274.8 574.1L277.1 574.1L279.5 574.1L281.8 574.1L284.1 574.1L286.4 574.1L288.5 574.1L290.6 574.1L293.0 574.1L295.2 574.1L297.4 574.1L298.8 574.1" stroke="#000" stroke-width="2.00"/>
</g>
<g class="tr" font-size="17" font-style="italic">
<text x="327.8" y="490.9" textLength="208.0" lengthAdjust="spacingAndGlyphs">Camellia sinensis (L.) Kuntze</text>
<text x="327.8" y="513.4" textLength="77.6" lengthAdjust="spacingAndGlyphs">Oolong tea</text>
<text x="327.8" y="535.9" textLength="197.4" lengthAdjust="spacingAndGlyphs">Camelliaboreali  yunnanica</text>
<text x="327.8" y="558.4" textLength="241.7" lengthAdjust="spacingAndGlyphs">Camellia assamica (Mast.) Chang</text>
</g>
<text class="ar" font-size="17.2" x="327.3" y="581.0" textLength="42.8" lengthAdjust="spacingAndGlyphs">Blank</text>
<text class="tr" font-size="17.3" x="104.5" y="494.2" textLength="93" lengthAdjust="spacingAndGlyphs">EtOH extract</text>
<g class="tr" font-size="17" font-weight="bold">
<text x="613" y="491.9" textLength="148.5" lengthAdjust="spacingAndGlyphs">MAX :22.91mW/m<tspan font-size="12.5" dy="-7.6">2</tspan></text>
<text x="613" y="511.2" textLength="148.5" lengthAdjust="spacingAndGlyphs">MAX :17.88mW/m<tspan font-size="12.5" dy="-7.6">2</tspan></text>
<text x="613" y="535.8" textLength="148.5" lengthAdjust="spacingAndGlyphs">MAX :15.77mW/m<tspan font-size="12.5" dy="-7.6">2</tspan></text>
<text x="613" y="560.1" textLength="148.5" lengthAdjust="spacingAndGlyphs">MAX :15.24mW/m<tspan font-size="12.5" dy="-7.6">2</tspan></text>
<text x="613" y="580.5" textLength="148.5" lengthAdjust="spacingAndGlyphs">MAX :11.40mW/m<tspan font-size="12.5" dy="-7.6">2</tspan></text>
</g>
</svg></body></html>
